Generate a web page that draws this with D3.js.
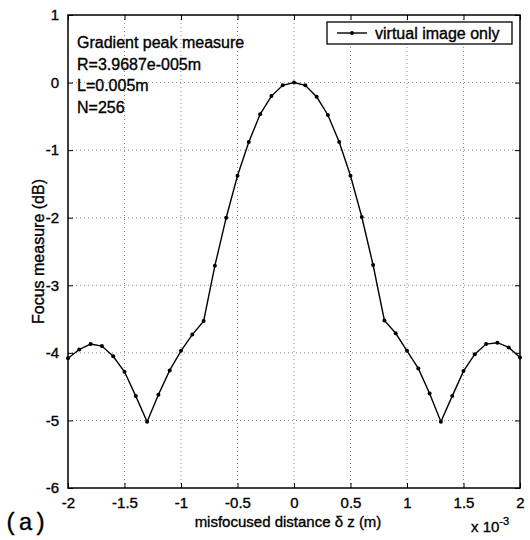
<!DOCTYPE html>
<html>
<head>
<meta charset="utf-8">
<script src="https://cdn.jsdelivr.net/npm/d3@7"></script>
<style>
  html, body { margin: 0; padding: 0; background: #fff; }
  svg { display: block; font-family: "Liberation Sans", Arial, Helvetica, sans-serif; }
  svg text { stroke: #000; stroke-width: 0.35px; }
</style>
</head>
<body>
<svg id="chart" width="530" height="540"></svg>
<script>
// Misfocus distance (units of 1e-3 m) and focus measure (dB)
const distance = [
  -2.0, -1.9, -1.8, -1.7, -1.6, -1.5, -1.4, -1.3, -1.2, -1.1, -1.0,
  -0.9, -0.8, -0.7, -0.6, -0.5, -0.4, -0.3, -0.2, -0.1, 0.0,
  0.1, 0.2, 0.3, 0.4, 0.5, 0.6, 0.7, 0.8, 0.9, 1.0,
  1.1, 1.2, 1.3, 1.4, 1.5, 1.6, 1.7, 1.8, 1.9, 2.0
];
const focusMeasure = [
  -4.08, -3.95, -3.87, -3.90, -4.05, -4.28, -4.64, -5.02, -4.62, -4.26, -3.97,
  -3.73, -3.53, -2.71, -2.00, -1.38, -0.88, -0.47, -0.20, -0.04, 0.00,
  -0.04, -0.21, -0.48, -0.88, -1.38, -1.99, -2.70, -3.52, -3.71, -3.97,
  -4.23, -4.60, -5.02, -4.64, -4.27, -4.02, -3.87, -3.85, -3.92, -4.07
];
const xTicks = [-2, -1.5, -1, -0.5, 0, 0.5, 1, 1.5, 2];
const yTicks = [1, 0, -1, -2, -3, -4, -5, -6];
const annotation = ["Gradient peak measure", "R=3.9687e-005m", "L=0.005m", "N=256"];
const legendLabel = "virtual image only";

const svg = d3.select("#chart");
const plot = { left: 68, right: 520, top: 15, bottom: 488 };

const x = d3.scaleLinear().domain([-2, 2]).range([plot.left, plot.right]);
const y = d3.scaleLinear().domain([-6, 1]).range([plot.bottom, plot.top]);

// dotted grid
const grid = svg.append("g").attr("stroke", "#8a8a8a").attr("stroke-width", 1)
  .attr("stroke-dasharray", "1,3");
grid.selectAll("line.gx").data(xTicks.slice(1, -1)).join("line")
  .attr("x1", d => x(d)).attr("x2", d => x(d))
  .attr("y1", plot.top).attr("y2", plot.bottom);
grid.selectAll("line.gy").data(yTicks.slice(1, -1)).join("line")
  .attr("x1", plot.left).attr("x2", plot.right)
  .attr("y1", d => y(d)).attr("y2", d => y(d));

// axes with inward ticks
const fmt = d => String(d);
const axisFont = g => g.selectAll("text")
  .attr("font-size", 15).attr("fill", "#000")
  .attr("font-family", "'Liberation Sans', Arial, sans-serif");
const clean = g => { g.select(".domain").remove(); g.selectAll("line").attr("stroke", "#000"); };

svg.append("g").attr("transform", `translate(0,${plot.bottom})`)
  .call(d3.axisBottom(x).tickValues(xTicks).tickFormat(fmt).tickSizeInner(-5).tickPadding(9))
  .call(clean).call(axisFont);
svg.append("g").attr("transform", `translate(0,${plot.top})`)
  .call(d3.axisTop(x).tickValues(xTicks).tickFormat("").tickSizeInner(-5))
  .call(clean);
svg.append("g").attr("transform", `translate(${plot.left},0)`)
  .call(d3.axisLeft(y).tickValues(yTicks).tickFormat(fmt).tickSizeInner(-5).tickPadding(9))
  .call(clean).call(axisFont);
svg.append("g").attr("transform", `translate(${plot.right},0)`)
  .call(d3.axisRight(y).tickValues(yTicks).tickFormat("").tickSizeInner(-5))
  .call(clean);

// frame
svg.append("rect")
  .attr("x", plot.left).attr("y", plot.top)
  .attr("width", plot.right - plot.left).attr("height", plot.bottom - plot.top)
  .attr("fill", "none").attr("stroke", "#000").attr("stroke-width", 1.5);

// curve with point markers
const pts = distance.map((d, i) => [d, focusMeasure[i]]);
svg.append("path").datum(pts)
  .attr("fill", "none").attr("stroke", "#000").attr("stroke-width", 1.4)
  .attr("d", d3.line().x(d => x(d[0])).y(d => y(d[1])));
svg.append("g").selectAll("circle").data(pts).join("circle")
  .attr("cx", d => x(d[0])).attr("cy", d => y(d[1])).attr("r", 2).attr("fill", "#000");

// annotation block
svg.append("g").selectAll("text").data(annotation).join("text")
  .attr("x", 77).attr("y", (d, i) => 48 + i * 21.7)
  .attr("font-size", 16).attr("fill", "#000").text(d => d);

// legend
const lg = svg.append("g");
lg.append("rect").attr("x", 327).attr("y", 22).attr("width", 185).attr("height", 22)
  .attr("fill", "#fff").attr("stroke", "#000").attr("stroke-width", 1.3);
lg.append("line").attr("x1", 337).attr("x2", 367).attr("y1", 33).attr("y2", 33)
  .attr("stroke", "#000").attr("stroke-width", 1.4);
lg.append("circle").attr("cx", 352).attr("cy", 33).attr("r", 2).attr("fill", "#000");
lg.append("text").attr("x", 375).attr("y", 39).attr("font-size", 16).attr("fill", "#000")
  .text(legendLabel);

// axis titles
svg.append("text").attr("x", 288).attr("y", 527).attr("text-anchor", "middle")
  .attr("font-size", 15).attr("fill", "#000").text("misfocused distance δ z (m)");
svg.append("text")
  .attr("transform", `translate(44,${(plot.top + plot.bottom) / 2}) rotate(-90)`)
  .attr("text-anchor", "middle").attr("font-size", 16).attr("fill", "#000")
  .text("Focus measure (dB)");

// exponent label
const ex = svg.append("text").attr("x", 471).attr("y", 532).attr("font-size", 15).attr("fill", "#000");
ex.append("tspan").text("x 10");
ex.append("tspan").attr("dy", -7).attr("font-size", 11).text("-3");

// panel tag
svg.append("text").attr("x", 4).attr("y", 530)
  .attr("font-family", "'Liberation Mono', 'DejaVu Sans Mono', monospace")
  .attr("font-size", 24).attr("fill", "#000").text("(a)");
</script>
</body>
</html>
